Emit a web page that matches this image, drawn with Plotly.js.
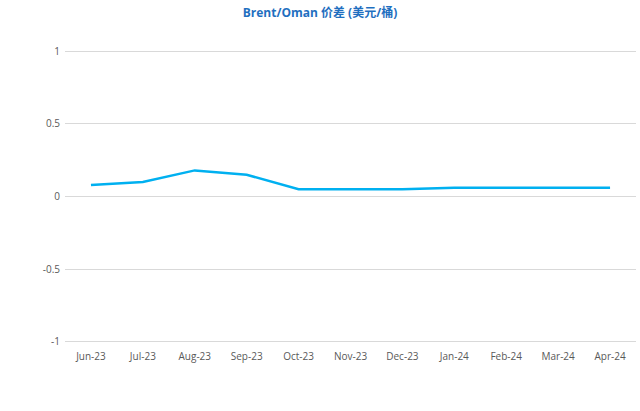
<!DOCTYPE html>
<html>
<head>
<meta charset="utf-8">
<script src="https://cdn.plot.ly/plotly-3.0.1.min.js"></script>
<style>html,body{margin:0;padding:0;background:#fff;}#chart{width:640px;height:411px;}</style>
</head>
<body>
<div id="chart"></div>
<script>
const months = ["Jun-23","Jul-23","Aug-23","Sep-23","Oct-23","Nov-23","Dec-23","Jan-24","Feb-24","Mar-24","Apr-24"];
const spread = [0.08,0.10,0.18,0.15,0.05,0.05,0.05,0.06,0.06,0.06,0.06];
const yTicks = [-1,-0.5,0,0.5,1];
const yTickText = ["-1","-0.5","0","0.5","1"];

Plotly.newPlot("chart", [{
  x: months, y: spread, type: "scatter", mode: "lines",
  line: {color: "#00b0f0", width: 2.5},
  hoverinfo: "x+y"
}], {
  width: 640, height: 411,
  margin: {l: 65, r: 4, t: 50, b: 68},
  paper_bgcolor: "#fff", plot_bgcolor: "#fff",
  showlegend: false,
  title: {text: "<b>Brent/Oman 价差 (美元/桶)</b>", x: 0.5, xanchor: "center", y: 0.968, yanchor: "middle",
    font: {family: "Open Sans, Noto Sans CJK SC, sans-serif", size: 12, color: "#1f6fc0"}},
  xaxis: {type: "category", range: [-0.5, 10.5], showgrid: false, zeroline: false,
    showline: false, ticks: "", ticklabelstandoff: 6,
    tickfont: {family: "Open Sans, Noto Sans, sans-serif", size: 10, color: "#595959"}},
  yaxis: {range: [-1.01, 1.01], tickvals: yTicks, ticktext: yTickText, showgrid: true, gridcolor: "#d9d9d9", gridwidth: 1,
    zeroline: false, showline: false, ticks: "", ticklabelstandoff: 4,
    tickfont: {family: "Open Sans, Noto Sans, sans-serif", size: 10, color: "#595959"}}
}, {displayModeBar: false, staticPlot: true});
</script>
</body>
</html>
